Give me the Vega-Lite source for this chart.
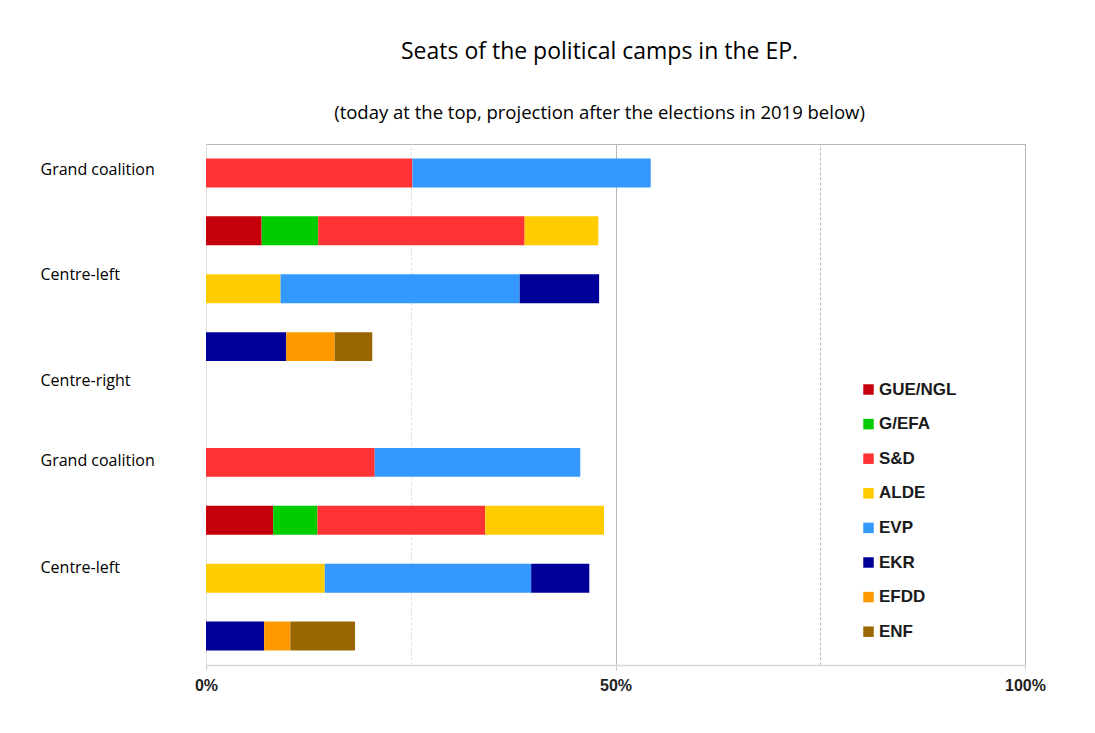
{
  "$schema": "https://vega.github.io/schema/vega-lite/v6.json",
  "width": 819,
  "height": 521,
  "autosize": "none",
  "padding": {"left": 206, "top": 144, "right": 70, "bottom": 68},
  "background": "white",
  "title": {
    "text": "Seats of the political camps in the EP.",
    "subtitle": "(today at the top, projection  after the elections in 2019 below)",
    "anchor": "middle",
    "frame": "group",
    "dx": -16,
    "offset": 22,
    "font": "Open Sans",
    "fontSize": 23,
    "fontWeight": "normal",
    "color": "#000000",
    "subtitleFont": "Open Sans",
    "subtitleFontSize": 18.5,
    "subtitleColor": "#000000",
    "subtitlePadding": 40
  },
  "data": {
    "values": [
      {"row": 1, "group": "S&D", "k": 3, "value": 25.2},
      {"row": 1, "group": "EVP", "k": 5, "value": 29.1},
      {"row": 2, "group": "GUE/NGL", "k": 1, "value": 6.8},
      {"row": 2, "group": "G/EFA", "k": 2, "value": 6.9},
      {"row": 2, "group": "S&D", "k": 3, "value": 25.2},
      {"row": 2, "group": "ALDE", "k": 4, "value": 9.0},
      {"row": 3, "group": "ALDE", "k": 4, "value": 9.1},
      {"row": 3, "group": "EVP", "k": 5, "value": 29.2},
      {"row": 3, "group": "EKR", "k": 6, "value": 9.7},
      {"row": 4, "group": "EKR", "k": 6, "value": 9.8},
      {"row": 4, "group": "EFDD", "k": 7, "value": 5.9},
      {"row": 4, "group": "ENF", "k": 8, "value": 4.6},
      {"row": 6, "group": "S&D", "k": 3, "value": 20.6},
      {"row": 6, "group": "EVP", "k": 5, "value": 25.1},
      {"row": 7, "group": "GUE/NGL", "k": 1, "value": 8.2},
      {"row": 7, "group": "G/EFA", "k": 2, "value": 5.4},
      {"row": 7, "group": "S&D", "k": 3, "value": 20.5},
      {"row": 7, "group": "ALDE", "k": 4, "value": 14.5},
      {"row": 8, "group": "ALDE", "k": 4, "value": 14.5},
      {"row": 8, "group": "EVP", "k": 5, "value": 25.2},
      {"row": 8, "group": "EKR", "k": 6, "value": 7.1},
      {"row": 9, "group": "EKR", "k": 6, "value": 7.1},
      {"row": 9, "group": "EFDD", "k": 7, "value": 3.2},
      {"row": 9, "group": "ENF", "k": 8, "value": 7.9}
    ]
  },
  "mark": {"type": "bar"},
  "encoding": {
    "y": {
      "field": "row",
      "type": "ordinal",
      "scale": {"domain": [1, 2, 3, 4, 5, 6, 7, 8, 9], "paddingInner": 0.5, "paddingOuter": 0.25},
      "axis": {
        "title": null,
        "domain": false,
        "ticks": false,
        "labelAlign": "left",
        "labelPadding": 166,
        "labelFont": "Open Sans",
        "labelFontSize": 16,
        "labelColor": "#000000",
        "labelExpr": "datum.value == 1 || datum.value == 6 ? 'Grand coalition' : datum.value == 3 || datum.value == 8 ? 'Centre-left' : datum.value == 5 ? 'Centre-right' : ''",
        "labelOffset": {"condition": [
          {"test": "datum.value == 3", "value": -14},
          {"test": "datum.value == 5", "value": -24},
          {"test": "datum.value == 8", "value": -10},
          {"test": "datum.value == 6", "value": -1}
        ], "value": -3}
      }
    },
    "x": {
      "field": "value",
      "type": "quantitative",
      "stack": "zero",
      "scale": {"domain": [0, 100], "nice": false},
      "axis": {
        "title": null,
        "values": [0, 25, 50, 75, 100],
        "labelExpr": "datum.value == 25 || datum.value == 75 ? '' : datum.value + '%'",
        "labelFlush": false,
        "labelFont": "Liberation Sans",
        "labelFontWeight": "bold",
        "labelFontSize": 16,
        "labelColor": "#222222",
        "labelPadding": 7,
        "domainColor": "#d9d9d9",
        "domainWidth": 1.5,
        "tickColor": "#c8c8c8",
        "tickSize": 5,
        "tickOpacity": {"condition": {"test": "datum.value == 25 || datum.value == 75", "value": 0}, "value": 1},
        "grid": true,
        "gridColor": {"condition": {"test": "datum.value == 0 || datum.value == 25", "value": "#dedede"}, "value": "#b8b8b8"},
        "gridDash": {"condition": {"test": "datum.value == 25 || datum.value == 75", "value": [3, 2]}, "value": []},
        "gridWidth": 1
      }
    },
    "color": {
      "field": "group",
      "type": "nominal",
      "sort": ["GUE/NGL", "G/EFA", "S&D", "ALDE", "EVP", "EKR", "EFDD", "ENF"],
      "scale": {
        "domain": ["GUE/NGL", "G/EFA", "S&D", "ALDE", "EVP", "EKR", "EFDD", "ENF"],
        "range": ["#c5000b", "#00cc00", "#ff3333", "#ffcc00", "#3399ff", "#000099", "#ff9900", "#996600"]
      },
      "legend": {
        "title": null,
        "orient": "none",
        "legendX": 654,
        "legendY": 237,
        "symbolType": "square",
        "symbolSize": 110,
        "symbolStrokeWidth": 0,
        "labelFont": "Liberation Sans",
        "labelFontWeight": "bold",
        "labelFontSize": 17,
        "labelColor": "#1a1a1a",
        "labelOffset": 2,
        "rowPadding": 16.6
      }
    },
    "order": {"field": "k", "type": "quantitative", "sort": "ascending"}
  },
  "config": {
    "view": {"stroke": "#b8b8b8", "strokeWidth": 1}
  }
}
